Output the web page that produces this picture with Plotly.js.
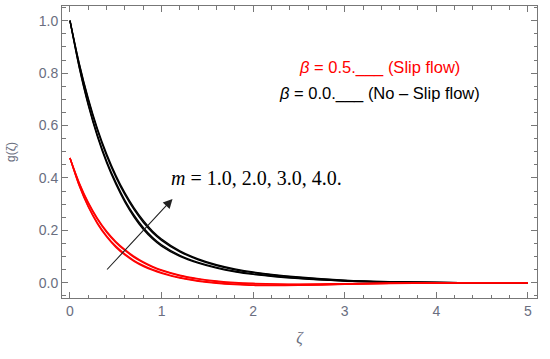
<!DOCTYPE html>
<html><head><meta charset="utf-8">
<script src="https://cdn.plot.ly/plotly-3.0.1.min.js"></script>
<style>html,body{margin:0;padding:0;background:#fff}</style>
</head><body><div id="chart" style="width:550px;height:359px"></div>
<script>
// zeta grid
const zeta = [0,0.1,0.2,0.3,0.4,0.5,0.6,0.7,0.8,0.9,1.0,1.2,1.4,1.6,1.8,2.0,2.5,3.0,3.5,4.0,4.5,5.0];
// beta = 0.0 (No-slip flow), m = 1..4
const noSlip_m1 = [1.0,0.823,0.677,0.557,0.458,0.377,0.308,0.251,0.204,0.168,0.140,0.101,0.075,0.056,0.042,0.032,0.016,0.007,0.003,0.001,0,0];
const noSlip_m2 = [1.0,0.826,0.682,0.563,0.465,0.384,0.315,0.258,0.211,0.174,0.145,0.105,0.078,0.059,0.044,0.034,0.017,0.007,0.003,0.001,0,0];
const noSlip_m3 = [1.0,0.836,0.698,0.582,0.485,0.404,0.336,0.279,0.231,0.192,0.162,0.118,0.088,0.066,0.050,0.039,0.020,0.009,0.004,0.001,0,0];
const noSlip_m4 = [1.0,0.839,0.703,0.588,0.492,0.411,0.343,0.286,0.238,0.198,0.167,0.122,0.091,0.069,0.053,0.041,0.022,0.010,0.004,0.001,0,0];
// beta = 0.5 (Slip flow), m = 1..4
const slip_m1 = [0.476,0.371,0.289,0.225,0.175,0.136,0.106,0.082,0.063,0.048,0.036,0.018,0.006,-0.002,-0.007,-0.010,-0.010,-0.006,-0.003,-0.001,0,0];
const slip_m2 = [0.476,0.373,0.292,0.229,0.179,0.140,0.110,0.085,0.066,0.051,0.039,0.020,0.008,0.000,-0.005,-0.008,-0.009,-0.005,-0.002,-0.001,0,0];
const slip_m3 = [0.476,0.380,0.303,0.242,0.193,0.154,0.123,0.097,0.077,0.060,0.047,0.027,0.014,0.005,-0.001,-0.004,-0.006,-0.004,-0.002,0,0,0];
const slip_m4 = [0.476,0.383,0.307,0.246,0.197,0.158,0.127,0.101,0.080,0.063,0.049,0.029,0.016,0.007,0.001,-0.002,-0.005,-0.003,-0.001,0,0,0];
const xTicks = [0,1,2,3,4,5];
const yTicks = [0.0,0.2,0.4,0.6,0.8,1.0];
const arrowTail = [0.39, 0.045];
const arrowTip = [1.12, 0.32];

const blackSeries = [noSlip_m1,noSlip_m2,noSlip_m3,noSlip_m4];
const redSeries = [slip_m1,slip_m2,slip_m3,slip_m4];
const traces = [];
blackSeries.forEach(s => traces.push({x: zeta, y: s, mode:'lines', line:{color:'#000', width:1.4, shape:'spline', smoothing:0.8}, hoverinfo:'none'}));
redSeries.forEach(s => traces.push({x: zeta, y: s, mode:'lines', line:{color:'#ff0000', width:1.4, shape:'spline', smoothing:0.8}, hoverinfo:'none'}));

const tickFont = {family:'Liberation Sans, Arial, sans-serif', size:14, color:'#6a6e80'};
const axisCommon = {
  showgrid:false, zeroline:false, showline:true, linecolor:'#777', linewidth:1,
  mirror:'allticks', ticks:'inside', ticklen:6, tickcolor:'#777', tickwidth:1,
  tickfont: tickFont
};
const layout = {
  width:550, height:359,
  margin:{l:62, r:13, t:6, b:61},
  paper_bgcolor:'#fff', plot_bgcolor:'#fff',
  showlegend:false,
  xaxis: Object.assign({}, axisCommon, {
    range:[-0.087,5.1], tickvals:xTicks, ticktext:xTicks.map(String),
    minor:{dtick:0.2, tick0:0, ticks:'inside', ticklen:3.5, tickcolor:'#777'},
    title:{text:'<i>ζ</i>', font:{family:'Liberation Serif, Times New Roman, serif', size:16, color:'#6a6e80'}, standoff:14}
  }),
  yaxis: Object.assign({}, axisCommon, {
    range:[-0.058,1.056], tickvals:yTicks, ticktext:yTicks.map(v=>v.toFixed(1)),
    minor:{dtick:0.05, tick0:0, ticks:'inside', ticklen:3.5, tickcolor:'#777'},
    title:{text:'g(ζ)', font:{family:'Liberation Sans, Arial, sans-serif', size:12, color:'#6a6e80'}, standoff:20}
  }),
  annotations:[
    {x:arrowTip[0], y:arrowTip[1], ax:arrowTail[0], ay:arrowTail[1], xref:'x', yref:'y', axref:'x', ayref:'y',
     showarrow:true, arrowhead:2, arrowsize:1.7, arrowwidth:1.1, arrowcolor:'#222', text:''},
    {x:1.08, y:0.40, xref:'x', yref:'y', xanchor:'left', yanchor:'middle', showarrow:false,
     text:'<i>m</i> = 1.0, 2.0, 3.0, 4.0.', font:{family:'Liberation Serif, Times New Roman, serif', size:20, color:'#000'}},
    {x:3.38, y:0.823, xref:'x', yref:'y', xanchor:'center', yanchor:'middle', showarrow:false,
     text:'<i>β</i> = 0.5.___ (Slip flow)', font:{family:'Liberation Sans, Arial, sans-serif', size:16.5, color:'#ff0000'}},
    {x:3.38, y:0.724, xref:'x', yref:'y', xanchor:'center', yanchor:'middle', showarrow:false,
     text:'<i>β</i> = 0.0.___ (No – Slip flow)', font:{family:'Liberation Sans, Arial, sans-serif', size:16.5, color:'#000'}}
  ]
};
Plotly.newPlot('chart', traces, layout, {staticPlot:true, displayModeBar:false});
</script></body></html>
